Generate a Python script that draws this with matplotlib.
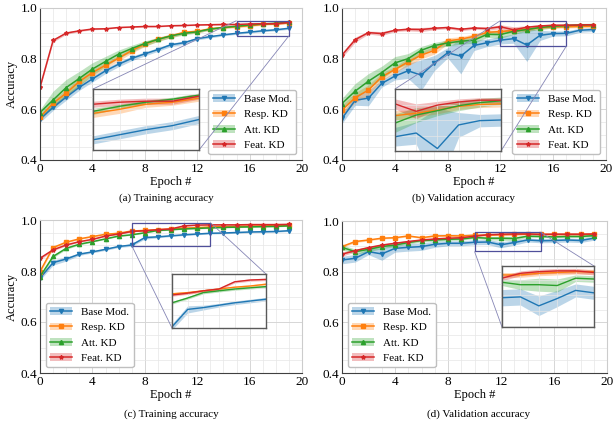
import numpy as np
import matplotlib
matplotlib.use("Agg")
import matplotlib.pyplot as plt
from matplotlib.patches import Patch
from matplotlib.ticker import MultipleLocator, FormatStrFormatter
from mpl_toolkits.axes_grid1.inset_locator import mark_inset

plt.rcParams['font.family'] = ['Liberation Serif', 'DejaVu Serif']

# ---- data ----
epochs = np.arange(20)
names = ['Base Mod.', 'Resp. KD', 'Att. KD', 'Feat. KD']
colors = ['#1f77b4', '#ff7f0e', '#2ca02c', '#d62728']
markers = ['v', 's', '^', '*']

# (a) training accuracy
base_a = [0.561, 0.608, 0.648, 0.687, 0.720, 0.752, 0.778, 0.801, 0.819, 0.836,
          0.855, 0.863, 0.879, 0.887, 0.894, 0.900, 0.905, 0.910, 0.914, 0.920]
resp_a = [0.569, 0.624, 0.664, 0.710, 0.745, 0.774, 0.802, 0.832, 0.857, 0.877,
          0.890, 0.904, 0.908, 0.918, 0.923, 0.926, 0.930, 0.935, 0.937, 0.941]
att_a = [0.587, 0.637, 0.686, 0.722, 0.759, 0.789, 0.818, 0.840, 0.860, 0.876,
         0.890, 0.900, 0.906, 0.917, 0.923, 0.928, 0.933, 0.937, 0.940, 0.944]
feat_a = [0.687, 0.872, 0.901, 0.910, 0.917, 0.918, 0.923, 0.925, 0.927, 0.927,
          0.930, 0.931, 0.933, 0.934, 0.935, 0.935, 0.937, 0.938, 0.938, 0.943]
base_a_sd = [0.012, 0.012, 0.012, 0.012, 0.012, 0.011, 0.010, 0.009, 0.008, 0.007,
             0.007, 0.006, 0.005, 0.005, 0.004, 0.004, 0.004, 0.004, 0.004, 0.004]
resp_a_sd = [0.012, 0.015, 0.015, 0.015, 0.013, 0.012, 0.011, 0.010, 0.009, 0.008,
             0.007, 0.006, 0.006, 0.005, 0.005, 0.004, 0.004, 0.003, 0.003, 0.003]
att_a_sd = [0.012, 0.035, 0.032, 0.028, 0.025, 0.020, 0.016, 0.013, 0.010, 0.008,
            0.007, 0.006, 0.005, 0.004, 0.003, 0.003, 0.002, 0.002, 0.002, 0.002]
feat_a_sd = [0.005, 0.006, 0.005, 0.003, 0.003, 0.002, 0.002, 0.002, 0.002, 0.002,
             0.002, 0.002, 0.002, 0.002, 0.003, 0.003, 0.003, 0.003, 0.003, 0.003]

# (b) validation accuracy
base_b = [0.564, 0.636, 0.644, 0.702, 0.731, 0.752, 0.735, 0.783, 0.823, 0.810,
          0.852, 0.863, 0.873, 0.879, 0.854, 0.892, 0.899, 0.900, 0.912, 0.915]
resp_b = [0.597, 0.646, 0.676, 0.728, 0.757, 0.787, 0.814, 0.833, 0.870, 0.877,
          0.888, 0.904, 0.907, 0.911, 0.916, 0.922, 0.925, 0.926, 0.927, 0.928]
att_b = [0.623, 0.672, 0.711, 0.745, 0.783, 0.800, 0.833, 0.852, 0.862, 0.869,
         0.873, 0.896, 0.895, 0.908, 0.915, 0.923, 0.928, 0.931, 0.933, 0.934]
feat_b = [0.814, 0.875, 0.903, 0.899, 0.912, 0.916, 0.915, 0.920, 0.923, 0.916,
          0.921, 0.919, 0.926, 0.914, 0.924, 0.929, 0.932, 0.932, 0.933, 0.934]
base_b_sd = [0.020, 0.020, 0.030, 0.015, 0.015, 0.030, 0.060, 0.030, 0.020, 0.070,
             0.020, 0.015, 0.015, 0.018, 0.065, 0.020, 0.010, 0.010, 0.008, 0.008]
resp_b_sd = [0.020, 0.020, 0.020, 0.015, 0.012, 0.015, 0.015, 0.015, 0.012, 0.010,
             0.010, 0.008, 0.008, 0.006, 0.006, 0.005, 0.005, 0.005, 0.005, 0.005]
att_b_sd = [0.020, 0.030, 0.030, 0.025, 0.025, 0.020, 0.015, 0.012, 0.012, 0.012,
            0.012, 0.012, 0.015, 0.012, 0.008, 0.008, 0.007, 0.006, 0.006, 0.006]
feat_b_sd = [0.010, 0.010, 0.006, 0.008, 0.005, 0.006, 0.008, 0.006, 0.005, 0.006,
             0.005, 0.006, 0.008, 0.012, 0.006, 0.005, 0.004, 0.004, 0.004, 0.004]

# (c) training accuracy
base_c = [0.772, 0.833, 0.847, 0.866, 0.875, 0.885, 0.896, 0.902, 0.931, 0.934,
          0.938, 0.942, 0.945, 0.948, 0.949, 0.951, 0.953, 0.954, 0.955, 0.958]
resp_c = [0.798, 0.892, 0.913, 0.926, 0.935, 0.944, 0.948, 0.957, 0.959, 0.962,
          0.965, 0.968, 0.970, 0.973, 0.974, 0.975, 0.976, 0.977, 0.978, 0.979]
att_c = [0.778, 0.857, 0.889, 0.905, 0.915, 0.926, 0.937, 0.942, 0.950, 0.959,
         0.962, 0.965, 0.967, 0.969, 0.971, 0.972, 0.973, 0.974, 0.975, 0.977]
feat_c = [0.850, 0.883, 0.902, 0.915, 0.924, 0.937, 0.945, 0.955, 0.958, 0.962,
          0.965, 0.977, 0.980, 0.981, 0.981, 0.981, 0.982, 0.982, 0.982, 0.983]
base_c_sd = [0.008, 0.010, 0.008, 0.005, 0.004, 0.004, 0.004, 0.005, 0.006, 0.004,
             0.003, 0.003, 0.003, 0.003, 0.003, 0.003, 0.003, 0.003, 0.003, 0.003]
resp_c_sd = [0.008, 0.004, 0.003, 0.002, 0.002, 0.002, 0.002, 0.002, 0.002, 0.002,
             0.002, 0.002, 0.002, 0.002, 0.002, 0.002, 0.002, 0.002, 0.002, 0.002]
att_c_sd = [0.008, 0.005, 0.004, 0.003, 0.002, 0.002, 0.002, 0.002, 0.002, 0.002,
            0.002, 0.002, 0.002, 0.002, 0.002, 0.002, 0.002, 0.002, 0.002, 0.002]
feat_c_sd = [0.006, 0.004, 0.003, 0.002, 0.002, 0.002, 0.002, 0.002, 0.002, 0.002,
             0.002, 0.002, 0.002, 0.002, 0.002, 0.002, 0.002, 0.002, 0.002, 0.002]

# (d) validation accuracy
base_d = [0.846, 0.853, 0.879, 0.870, 0.892, 0.896, 0.899, 0.908, 0.912, 0.912,
          0.916, 0.917, 0.906, 0.915, 0.925, 0.922, 0.923, 0.925, 0.923, 0.932]
resp_d = [0.899, 0.919, 0.925, 0.932, 0.934, 0.941, 0.934, 0.941, 0.942, 0.941,
          0.944, 0.944, 0.946, 0.947, 0.948, 0.948, 0.947, 0.947, 0.947, 0.947]
att_d = [0.896, 0.879, 0.888, 0.899, 0.905, 0.915, 0.923, 0.925, 0.928, 0.929,
         0.935, 0.932, 0.932, 0.931, 0.940, 0.939, 0.937, 0.939, 0.939, 0.942]
feat_d = [0.869, 0.883, 0.895, 0.905, 0.912, 0.919, 0.925, 0.929, 0.932, 0.934,
          0.940, 0.946, 0.948, 0.949, 0.949, 0.947, 0.948, 0.948, 0.948, 0.949]
base_d_sd = [0.015, 0.015, 0.012, 0.025, 0.015, 0.015, 0.015, 0.012, 0.010, 0.010,
             0.010, 0.010, 0.012, 0.010, 0.008, 0.008, 0.008, 0.008, 0.008, 0.008]
resp_d_sd = [0.005, 0.004, 0.003, 0.003, 0.003, 0.003, 0.003, 0.003, 0.003, 0.003,
             0.003, 0.003, 0.003, 0.003, 0.003, 0.003, 0.003, 0.003, 0.003, 0.003]
att_d_sd = [0.010, 0.010, 0.010, 0.008, 0.006, 0.006, 0.005, 0.005, 0.005, 0.005,
            0.004, 0.006, 0.008, 0.008, 0.004, 0.004, 0.004, 0.004, 0.004, 0.004]
feat_d_sd = [0.008, 0.005, 0.004, 0.004, 0.004, 0.004, 0.004, 0.003, 0.003, 0.003,
             0.003, 0.003, 0.003, 0.003, 0.003, 0.003, 0.003, 0.003, 0.003, 0.003]

panels = [
    dict(means=[base_a, resp_a, att_a, feat_a], sds=[base_a_sd, resp_a_sd, att_a_sd, feat_a_sd],
         rect=(40, 8, 302, 160), inset=(93, 89, 199, 150), zoom=(15, 19, 0.89, 0.95),
         locs=(2, 4), legend='lower right', caption='(a) Training accuracy', cap=(166, 198),
         ylabel=True),
    dict(means=[base_b, resp_b, att_b, feat_b], sds=[base_b_sd, resp_b_sd, att_b_sd, feat_b_sd],
         rect=(342, 8, 606, 160), inset=(395, 89, 501, 151), zoom=(12, 17, 0.85, 0.95),
         locs=(2, 4), legend='lower right', caption='(b) Validation accuracy', cap=(463, 198),
         ylabel=False),
    dict(means=[base_c, resp_c, att_c, feat_c], sds=[base_c_sd, resp_c_sd, att_c_sd, feat_c_sd],
         rect=(40, 220, 302, 373), inset=(172, 274, 266, 328), zoom=(7, 13, 0.90, 0.99),
         locs=(1, 3), legend='lower left', caption='(c) Training accuracy', cap=(171, 414),
         ylabel=True),
    dict(means=[base_d, resp_d, att_d, feat_d], sds=[base_d_sd, resp_d_sd, att_d_sd, feat_d_sd],
         rect=(342, 221, 607, 373), inset=(502, 266, 594, 327), zoom=(10, 15, 0.88, 0.955),
         locs=(1, 3), legend='lower left', caption='(d) Validation accuracy', cap=(479, 414),
         ylabel=False),
]

W, H = 613, 425
fig = plt.figure(figsize=(W / 100, H / 100), dpi=100, facecolor='white')


def px_box(l, t, r, b):
    return [l / W, 1 - b / H, (r - l) / W, (b - t) / H]


def style_grid(ax):
    ax.grid(True, which='major', color='#d6d6d6', lw=0.7)
    ax.grid(True, which='minor', color='#e6e6e6', lw=0.5)
    ax.set_axisbelow(True)


for p in panels:
    ax = fig.add_axes(px_box(*p['rect']))
    handles = []
    for m, s, c, mk, nm in zip(p['means'], p['sds'], colors, markers, names):
        m = np.array(m)
        s = np.array(s)
        ax.fill_between(epochs, m - s, m + s, color=c, alpha=0.3, lw=0)
        ln, = ax.plot(epochs, m, color=c, marker=mk, ms=3.0, lw=1.1)
        handles.append((Patch(facecolor=c, alpha=0.3), ln))
    ax.set_xlim(0, 20)
    ax.set_ylim(0.4, 1.0)
    ax.xaxis.set_major_locator(MultipleLocator(4))
    ax.xaxis.set_minor_locator(MultipleLocator(1))
    ax.yaxis.set_major_locator(MultipleLocator(0.2))
    ax.yaxis.set_minor_locator(MultipleLocator(0.05))
    ax.yaxis.set_major_formatter(FormatStrFormatter('%.1f'))
    ax.tick_params(which='both', length=0, labelsize=9.5, pad=2)
    style_grid(ax)
    for side in ['left', 'bottom']:
        ax.spines[side].set_color('0.25')
    for side in ['top', 'right']:
        ax.spines[side].set_color('0.8')
    ax.set_xlabel('Epoch #', fontsize=9, labelpad=1)
    if p['ylabel']:
        ax.set_ylabel('Accuracy', fontsize=9, labelpad=2)
    ax.legend(handles, names, loc=p['legend'], fontsize=8, framealpha=1,
              edgecolor='0.75', handlelength=2.0, labelspacing=0.5)

    # zoomed inset
    axins = fig.add_axes(px_box(*p['inset']))
    for m, s, c in zip(p['means'], p['sds'], colors):
        m = np.array(m)
        s = np.array(s)
        axins.fill_between(epochs, m - s, m + s, color=c, alpha=0.3, lw=0)
        axins.plot(epochs, m, color=c, lw=1.0)
    x0, x1, y0, y1 = p['zoom']
    axins.set_xlim(x0, x1)
    axins.set_ylim(y0, y1)
    axins.xaxis.set_major_locator(MultipleLocator(1))
    axins.yaxis.set_major_locator(MultipleLocator((y1 - y0) / 4))
    axins.grid(True, color='#e6e6e6', lw=0.5)
    axins.set_xticklabels([])
    axins.set_yticklabels([])
    axins.tick_params(length=0)
    for sp in axins.spines.values():
        sp.set_color('0.35')
        sp.set_linewidth(1.0)
    axins.set_facecolor('white')
    mark_inset(ax, axins, loc1=p['locs'][0], loc2=p['locs'][1], fc='none',
               ec='#8585b5', lw=0.6)
    # rectangle drawn darker than connectors
    ax.add_patch(plt.Rectangle((x0, y0), x1 - x0, y1 - y0, fill=False,
                               ec='#4f4f9a', lw=0.9, zorder=5))

    fig.text(p['cap'][0] / W, 1 - p['cap'][1] / H, p['caption'], fontsize=8,
             ha='center', va='center')

fig.savefig('out.png', dpi=100, facecolor='white')
